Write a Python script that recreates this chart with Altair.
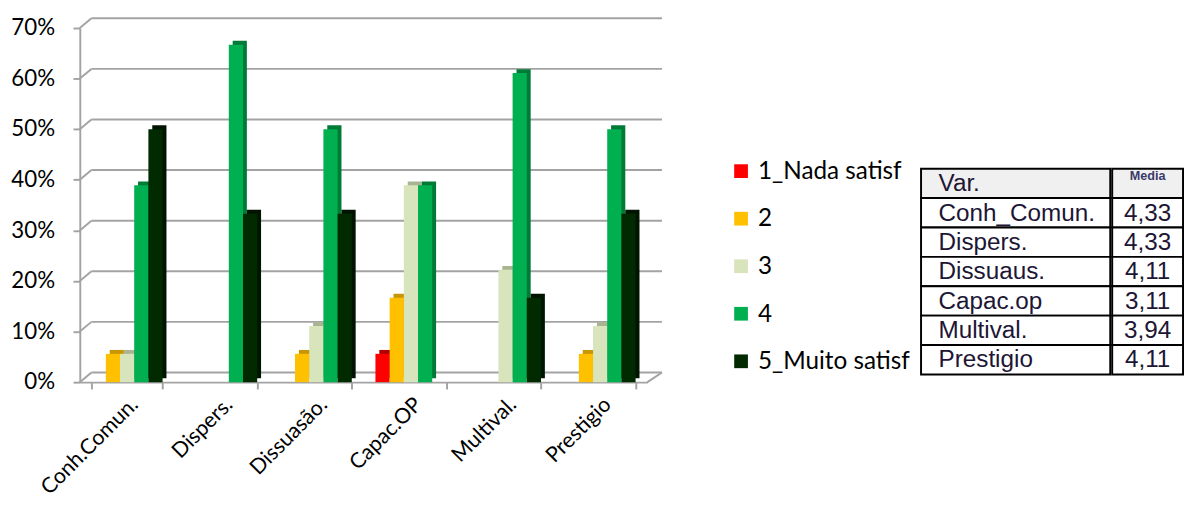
import altair as alt
import pandas as pd

categories = ["Conh.Comun.", "Dispers.", "Dissuasão.", "Capac.OP", "Multival.", "Prestigio"]
series = ["1_Nada satisf", "2", "3", "4", "5_Muito satisf"]
s1 = [0.0, 0.0, 0.0, 0.056, 0.0, 0.0]
s2 = [0.056, 0.0, 0.056, 0.167, 0.0, 0.056]
s3 = [0.056, 0.0, 0.111, 0.389, 0.222, 0.111]
s4 = [0.389, 0.667, 0.500, 0.389, 0.611, 0.500]
s5 = [0.500, 0.333, 0.333, 0.0, 0.167, 0.333]
colors = ["#FF0000", "#FFC000", "#D8E4BC", "#00B050", "#012A01"]
shades = ["#B00000", "#C89600", "#A9B592", "#007A37", "#001400"]
y_ticks = [0.0, 0.1, 0.2, 0.3, 0.4, 0.5, 0.6, 0.7]
table_var = ["Var.", "Conh_Comun.", "Dispers.", "Dissuaus.", "Capac.op", "Multival.", "Prestigio"]
table_media = ["Media", "4,33", "4,33", "4,11", "3,11", "3,94", "4,11"]

rows = []
for vals, s in zip([s1, s2, s3, s4, s5], series):
    for c, v in zip(categories, vals):
        rows.append({"cat": c, "serie": s, "val": v})
df = pd.DataFrame(rows)
grid_df = pd.DataFrame({"val": y_ticks})
floor_df = pd.DataFrame({"val": [0.0]})

W, H = 585, 365
GC = "#a3a3a3"
PI, PO = 0.25, 0.125
BW = W / (len(categories) - PI + 2 * PO) * (1 - PI)
SHIFT = 4
yscale = alt.Scale(domain=[0, 0.7], nice=False)
xscale = alt.Scale(domain=categories, paddingInner=PI, paddingOuter=PO)

x_enc = alt.X("cat:N", scale=xscale, sort=categories,
              axis=alt.Axis(title=None, labelAngle=-45, labelFont="Lato", labelFontSize=22,
                            labelColor="black", tickBand="extent", tickSize=7, tickColor=GC,
                            tickWidth=2, domainColor=GC, domainWidth=2, labelPadding=5))
xoff = alt.XOffset("serie:N", scale=alt.Scale(domain=series, paddingInner=0, paddingOuter=0))
xoff_sh = alt.XOffset("serie:N", scale=alt.Scale(domain=series, paddingInner=0, paddingOuter=0,
                                                 range=[SHIFT, BW + SHIFT]))
y_axis = alt.Axis(title=None, values=y_ticks, format=".0%", grid=False, labelFont="Lato",
                  labelFontSize=23, labelColor="black", tickSize=7, tickColor=GC,
                  tickWidth=2, domainColor=GC, domainWidth=2, labelPadding=19)
y_enc = alt.Y("val:Q", scale=yscale, axis=y_axis)

back_grid = alt.Chart(grid_df).mark_rule(color=GC, strokeWidth=2, yOffset=-10).encode(
    y=y_enc, x=alt.value(12), x2=alt.value(W + 15))
diag = alt.Chart(grid_df).mark_rule(color=GC, strokeWidth=2, y2Offset=-10).encode(
    y=y_enc, y2="val:Q", x=alt.value(0), x2=alt.value(12))
floor_r = alt.Chart(floor_df).mark_rule(color=GC, strokeWidth=2, y2Offset=-10).encode(
    y=y_enc, y2="val:Q", x=alt.value(W), x2=alt.value(W + 15))

shadow = alt.Chart(df).mark_bar(yOffset=-SHIFT).encode(
    x=x_enc, xOffset=xoff_sh, y=y_enc,
    color=alt.Color("serie:N", scale=alt.Scale(domain=series, range=shades), legend=None))
bars = alt.Chart(df).mark_bar().encode(
    x=x_enc, xOffset=xoff, y=y_enc,
    color=alt.Color("serie:N", scale=alt.Scale(domain=series, range=colors),
                    legend=alt.Legend(title=None, orient="none", legendX=669, legendY=135,
                                      symbolType="square", symbolSize=200, symbolStrokeWidth=0,
                                      labelFont="Lato", labelFontSize=25, labelColor="black",
                                      rowPadding=23, labelOffset=5, labelLimit=300)))

main = alt.layer(back_grid, diag, floor_r, shadow, bars).resolve_scale(
    color="independent", xOffset="independent").properties(width=W, height=H)

TH = 357
tdf = pd.DataFrame({"row": list(range(len(table_var))), "var": table_var, "media": table_media})
rowscale = alt.Scale(domain=list(range(len(table_var))), paddingInner=0, paddingOuter=0,
                     range=[TH - 212, TH])
TXT = "#201535"
y_row = alt.Y("row:O", scale=rowscale, axis=None)
cell_fill = alt.condition("datum.row == 0", alt.value("#f0f0f0"), alt.value("white"))

col1 = alt.layer(
    alt.Chart(tdf).mark_rect(stroke="black", strokeWidth=2).encode(y=y_row, fill=cell_fill),
    alt.Chart(tdf).mark_text(align="left", baseline="middle", font="Liberation Sans",
                             fontSize=25, color=TXT).encode(y=y_row, x=alt.value(18), text="var:N"),
).properties(width=195, height=TH)

col2 = alt.layer(
    alt.Chart(tdf).mark_rect(stroke="black", strokeWidth=2).encode(y=y_row, fill=cell_fill),
    alt.Chart(tdf).transform_filter("datum.row > 0").mark_text(
        align="center", baseline="middle", font="Liberation Sans", fontSize=25, color=TXT
    ).encode(y=y_row, text="media:N"),
    alt.Chart(tdf).transform_filter("datum.row == 0").mark_text(
        align="center", baseline="middle", font="Liberation Sans", fontSize=13, fontWeight="bold",
        color="#3a3a6a", dy=-8).encode(y=y_row, text="media:N"),
).properties(width=73, height=TH)

chart = alt.hconcat(main, alt.hconcat(col1, col2, spacing=0), spacing=10).properties(
    padding={"left": 2, "top": 2, "right": 0, "bottom": 0}
).configure_view(stroke=None)

chart.save("out.html", embed_options={"renderer": "svg", "actions": False})
